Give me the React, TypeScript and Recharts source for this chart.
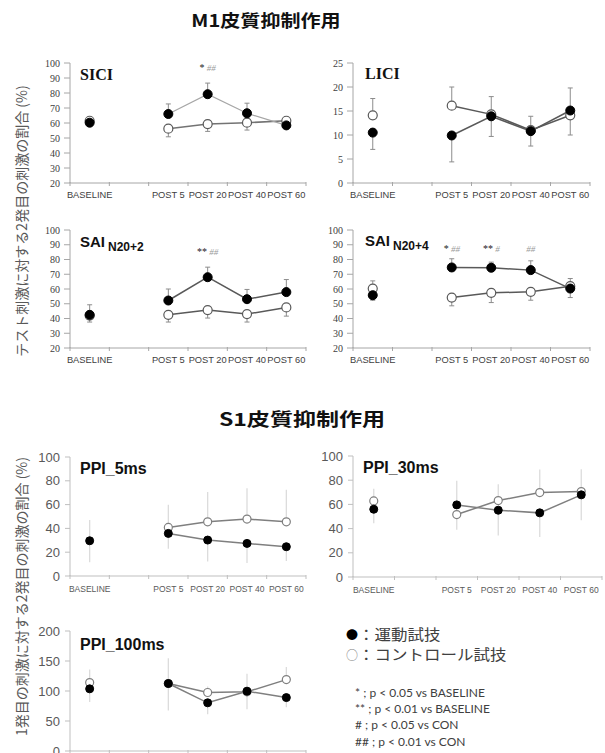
import React from 'react';
import { LineChart, Line, XAxis, YAxis, ErrorBar, LabelList } from 'recharts';

type Num = number | null;
type Err = [number, number] | null;

const categories = ['BASELINE', '', 'POST 5', 'POST 20', 'POST 40', 'POST 60'];

const m1Ticks = [20, 30, 40, 50, 60, 70, 80, 90, 100];
const liciTicks = [0, 5, 10, 15, 20, 25];
const ppiTicks = [0, 20, 40, 60, 80, 100];
const ppi100Ticks = [0, 50, 100, 150, 200];

// SICI
const siciExercise: Num[] = [60.2, null, 66, 79.2, 66.5, 58.4];
const siciExerciseErr: Err[] = [null, null, [0, 6.7], [0, 7.4], [0, 6.7], [1.5, 0]];
const siciControl: Num[] = [61.5, null, 56.2, 59.3, 60.2, 61.5];
const siciControlErr: Err[] = [null, null, [5.4, 0], [4.9, 0], [4.9, 0], [0, 1.8]];
const siciSigBaseline = ['', '', '', '*', '', ''];
const siciSigControl = ['', '', '', '##', '', ''];

// LICI
const liciExercise: Num[] = [10.5, null, 9.9, 13.9, 10.8, 15.1];
const liciExerciseErr: Err[] = [[3.5, 0], null, [5.5, 0], [4.2, 0], [3.1, 0], [5.1, 0]];
const liciControl: Num[] = [14.1, null, 16.1, 14.3, 11.0, 14.1];
const liciControlErr: Err[] = [[0, 3.5], null, [0, 3.9], [0, 3.7], [0, 2.9], [0, 5.7]];

// SAI N20+2
const sai2Exercise: Num[] = [42.5, null, 52.2, 68, 53.1, 57.9];
const sai2ExerciseErr: Err[] = [[4.9, 6.8], null, [0, 7.8], [0, 6.8], [0, 6.6], [0, 8.5]];
const sai2Control: Num[] = [42, null, 42.5, 45.7, 43, 47.5];
const sai2ControlErr: Err[] = [null, null, [4.9, 0], [5.4, 0], [5.4, 0], [5.9, 0]];
const sai2SigBaseline = ['', '', '', '**', '', ''];
const sai2SigControl = ['', '', '', '##', '', ''];

// SAI N20+4
const sai4Exercise: Num[] = [55.8, null, 74.6, 74.4, 72.8, 60.3];
const sai4ExerciseErr: Err[] = [[3.4, 0], null, [0, 5.9], [0, 3.8], [0, 6.3], [6.1, 0]];
const sai4Control: Num[] = [60.3, null, 54.2, 57.4, 58.1, 61.9];
const sai4ControlErr: Err[] = [[0, 5.2], null, [5.6, 0], [6.6, 0], [5.7, 0], [0, 5.2]];
const sai4SigBaseline = ['', '', '*', '**', '', ''];
const sai4SigControl = ['', '', '##', '#', '##', ''];

// PPI 5ms
const ppi5Exercise: Num[] = [29.6, null, 35.8, 30.2, 27.4, 24.6];
const ppi5ExerciseErr: Err[] = [[18, 17.5], null, [13, 0], [18, 0], [16.5, 0], [12, 0]];
const ppi5Control: Num[] = [null, null, 40.8, 45.5, 47.8, 45.5];
const ppi5ControlErr: Err[] = [null, null, [0, 19], [0, 25], [0, 26], [0, 27]];

// PPI 30ms
const ppi30Exercise: Num[] = [56, null, 59.6, 55.2, 53, 67.9];
const ppi30ExerciseErr: Err[] = [[11.5, 0], null, [0, 20], [21, 0], [20, 0], [21, 0]];
const ppi30Control: Num[] = [62.9, null, 51.6, 63.2, 69.8, 70.6];
const ppi30ControlErr: Err[] = [[0, 10], null, [12.6, 0], [0, 13.4], [0, 19], [0, 18.5]];

// PPI 100ms
const ppi100Exercise: Num[] = [103.6, null, 112.5, 80.3, 99.7, 89];
const ppi100ExerciseErr: Err[] = [[22, 0], null, [45, 42], [19, 0], [30, 0], [16, 0]];
const ppi100Control: Num[] = [114, null, 112.5, 97.5, 98.6, 119];
const ppi100ControlErr: Err[] = [[0, 22], null, null, [0, 10], [0, 30], [0, 21]];

const legendItems = ['運動試技', 'コントロール試技'];
const notes = [
  '* ; p < 0.05 vs BASELINE',
  '** ; p < 0.01 vs BASELINE',
  '# ; p < 0.05 vs CON',
  '## ; p < 0.01 vs CON',
];

const CJK = '"Noto Sans CJK JP", "Noto Sans CJK SC", sans-serif';
const SANS = '"Liberation Sans", Arial, sans-serif';
const SERIF = '"Liberation Serif", "Times New Roman", serif';

type Theme = {
  axis: string;
  yTick: any;
  xTick: any;
  xMargin: number;
  dotR: number;
  err: string;
  errW: number;
  errSW: number;
  openStroke: string;
  ySize: number;
  yMargin: number;
};

const M1: Theme = {
  axis: '#a6a6a6',
  yTick: { fontSize: 10, fontFamily: SERIF, fill: '#404040' },
  xTick: { fontSize: 9.3, fontFamily: SANS, fill: '#404040' },
  xMargin: 8,
  dotR: 4.5,
  err: '#8c8c8c',
  errW: 2.5,
  errSW: 1,
  openStroke: '#595959',
  ySize: 6,
  yMargin: 4,
};

const S1: Theme = {
  axis: '#bfbfbf',
  yTick: { fontSize: 13, fontFamily: SANS, fill: '#595959' },
  xTick: { fontSize: 8.5, fontFamily: SANS, fill: '#595959' },
  xMargin: 10,
  dotR: 4,
  err: '#dcdcdc',
  errW: 0,
  errSW: 1.3,
  openStroke: '#7f7f7f',
  ySize: 5,
  yMargin: 5,
};

const MT = 20;
const MR = 10;
const MB = 30;
const AXW = 50;
const AXH = 1;

type PanelProps = {
  x: number;
  y: number;
  w: number;
  h: number;
  domain: [number, number];
  ticks: number[];
  exercise: Num[];
  exerciseErr: Err[];
  control: Num[];
  controlErr: Err[];
  sigB?: string[];
  sigC?: string[];
  sigPageY?: number;
  theme: Theme;
  exLine: string;
  conLine: string;
  exLineW: number;
  conLineW: number;
};

function Panel(p: PanelProps) {
  const n = categories.length;
  const rows = categories.map((name, i) => ({
    name,
    ex: p.exercise[i],
    exErr: p.exerciseErr[i] ?? undefined,
    con: p.control[i],
    conErr: p.controlErr[i] ?? undefined,
    sig: p.sigB && p.sigC && (p.sigB[i] || p.sigC[i]) ? `${p.sigB[i]}|${p.sigC[i]}` : '',
  }));
  const t = p.theme;
  const top = p.y - MT;
  const bw = p.w / n;
  const sigY = (p.sigPageY ?? 0) - top;

  const renderSig = (props: any) => {
    const value = props.value;
    if (!value) return null;
    const cx = props.x ?? (props.viewBox ? props.viewBox.x + (props.viewBox.width || 0) / 2 : 0);
    const [b, c] = String(value).split('|');
    return (
      <text x={cx} y={sigY} textAnchor="middle" fontSize={10} fontFamily={SERIF}>
        <tspan fill="#222">{b}</tspan>
        <tspan fill="#9a9a9a" fontStyle="italic" fontSize={9}>{(b ? ' ' : '') + c}</tspan>
      </text>
    );
  };

  // category tick: label in the band centre, tick marks on the band boundaries
  const renderTick = (props: any) => {
    const { x, y, payload } = props;
    const idx = typeof props.index === 'number' ? props.index : categories.indexOf(payload.value);
    const ay = y - t.xMargin - AXH;
    return (
      <g>
        <line x1={x - bw / 2} x2={x - bw / 2} y1={ay} y2={ay + 4} stroke={t.axis} />
        {idx === n - 1 ? <line x1={x + bw / 2} x2={x + bw / 2} y1={ay} y2={ay + 4} stroke={t.axis} /> : null}
        <text x={x} y={y} dy="0.71em" textAnchor="middle" {...t.xTick}>
          {payload.value}
        </text>
      </g>
    );
  };

  return (
    <div style={{ position: 'absolute', left: p.x - AXW, top }}>
      <LineChart
        width={AXW + p.w + MR}
        height={MT + p.h + MB}
        data={rows}
        margin={{ top: MT, right: MR, bottom: MB - AXH, left: 0 }}
      >
        <XAxis
          dataKey="name"
          type="category"
          height={AXH}
          padding={{ left: bw / 2, right: bw / 2 }}
          axisLine={{ stroke: t.axis }}
          tickLine={false}
          tickSize={0}
          tickMargin={t.xMargin}
          interval={0}
          tick={renderTick}
        />
        <YAxis
          domain={p.domain}
          ticks={p.ticks}
          interval={0}
          width={AXW}
          axisLine={{ stroke: t.axis }}
          tickLine={{ stroke: t.axis }}
          tickSize={t.ySize}
          tickMargin={t.yMargin}
          tick={t.yTick}
        />
        <Line
          dataKey="con"
          stroke={p.conLine}
          strokeWidth={p.conLineW}
          isAnimationActive={false}
          activeDot={false}
          dot={{ r: t.dotR, fill: '#ffffff', stroke: t.openStroke, strokeWidth: 1.2 }}
        >
          <ErrorBar dataKey="conErr" direction="y" width={t.errW} stroke={t.err} strokeWidth={t.errSW} isAnimationActive={false} />
        </Line>
        <Line
          dataKey="ex"
          stroke={p.exLine}
          strokeWidth={p.exLineW}
          isAnimationActive={false}
          activeDot={false}
          dot={{ r: t.dotR, fill: '#000000', stroke: '#000000', strokeWidth: 1 }}
        >
          <ErrorBar dataKey="exErr" direction="y" width={t.errW} stroke={t.err} strokeWidth={t.errSW} isAnimationActive={false} />
          {p.sigB ? <LabelList dataKey="sig" content={renderSig} /> : null}
        </Line>
      </LineChart>
    </div>
  );
}

function Heading({ text, cx, cy, size, sx }: { text: string; cx: number; cy: number; size: number; sx: number }) {
  return (
    <div
      style={{
        position: 'absolute',
        left: cx - 150,
        top: cy - size / 2,
        width: 300,
        textAlign: 'center',
        fontSize: size,
        lineHeight: 1,
        fontWeight: 700,
        fontFamily: CJK,
        color: '#111',
        transform: `scaleX(${sx})`,
        whiteSpace: 'nowrap',
      }}
    >
      {text}
    </div>
  );
}

function PanelTitle({
  text,
  sub,
  left,
  cy,
  size,
  serif,
}: {
  text: string;
  sub?: string;
  left: number;
  cy: number;
  size: number;
  serif?: boolean;
}) {
  return (
    <div
      style={{
        position: 'absolute',
        left,
        top: cy - size / 2,
        fontSize: size,
        lineHeight: 1,
        fontWeight: 700,
        fontFamily: serif ? SERIF : SANS,
        color: '#111',
        whiteSpace: 'nowrap',
      }}
    >
      {text}
      {sub ? (
        <span style={{ fontSize: 12, position: 'relative', top: 4, marginLeft: 3 }}>{sub}</span>
      ) : null}
    </div>
  );
}

export default function App() {
  return (
    <div
      style={{
        position: 'absolute',
        left: 0,
        top: 0,
        width: 605,
        height: 753,
        overflow: 'hidden',
        background: '#ffffff',
      }}
    >
      <Heading text="M1皮質抑制作用" cx={266} cy={19.5} size={17} sx={1.18} />
      <Heading text="S1皮質抑制作用" cx={302} cy={418} size={18} sx={1.28} />

      <svg width={40} height={753} style={{ position: 'absolute', left: 0, top: 0 }}>
        <text
          transform="translate(21,221) rotate(-90)"
          textAnchor="middle"
          dominantBaseline="central"
          fontSize={14}
          fill="#595959"
          fontFamily={CJK}
        >
          テスト刺激に対する2発目の刺激の割合 (%)
        </text>
        <text
          transform="translate(21,457) rotate(-90)"
          textAnchor="end"
          dominantBaseline="central"
          fontSize={14}
          fill="#595959"
          fontFamily={CJK}
        >
          1発目の刺激に対する2発目の刺激の割合 (%)
        </text>
      </svg>

      <Panel
        x={70} y={63} w={236} h={120} domain={[20, 100]} ticks={m1Ticks}
        exercise={siciExercise} exerciseErr={siciExerciseErr}
        control={siciControl} controlErr={siciControlErr}
        sigB={siciSigBaseline} sigC={siciSigControl} sigPageY={71}
        theme={M1} exLine="#a6a6a6" conLine="#737373" exLineW={1.2} conLineW={1.6}
      />
      <Panel
        x={353} y={63} w={237} h={120} domain={[0, 25]} ticks={liciTicks}
        exercise={liciExercise} exerciseErr={liciExerciseErr}
        control={liciControl} controlErr={liciControlErr}
        theme={M1} exLine="#595959" conLine="#595959" exLineW={1.5} conLineW={1.5}
      />
      <Panel
        x={70} y={230} w={236} h={118} domain={[20, 100]} ticks={m1Ticks}
        exercise={sai2Exercise} exerciseErr={sai2ExerciseErr}
        control={sai2Control} controlErr={sai2ControlErr}
        sigB={sai2SigBaseline} sigC={sai2SigControl} sigPageY={255}
        theme={M1} exLine="#595959" conLine="#595959" exLineW={1.5} conLineW={1.5}
      />
      <Panel
        x={353} y={230} w={237} h={118} domain={[20, 100]} ticks={m1Ticks}
        exercise={sai4Exercise} exerciseErr={sai4ExerciseErr}
        control={sai4Control} controlErr={sai4ControlErr}
        sigB={sai4SigBaseline} sigC={sai4SigControl} sigPageY={252}
        theme={M1} exLine="#595959" conLine="#595959" exLineW={1.5} conLineW={1.5}
      />
      <Panel
        x={70} y={457} w={236} h={119} domain={[0, 100]} ticks={ppiTicks}
        exercise={ppi5Exercise} exerciseErr={ppi5ExerciseErr}
        control={ppi5Control} controlErr={ppi5ControlErr}
        theme={S1} exLine="#7f7f7f" conLine="#7f7f7f" exLineW={1.5} conLineW={1.5}
      />
      <Panel
        x={353} y={456} w={249} h={121} domain={[0, 100]} ticks={ppiTicks}
        exercise={ppi30Exercise} exerciseErr={ppi30ExerciseErr}
        control={ppi30Control} controlErr={ppi30ControlErr}
        theme={S1} exLine="#7f7f7f" conLine="#7f7f7f" exLineW={1.5} conLineW={1.5}
      />
      <Panel
        x={70} y={631} w={236} h={120} domain={[0, 200]} ticks={ppi100Ticks}
        exercise={ppi100Exercise} exerciseErr={ppi100ExerciseErr}
        control={ppi100Control} controlErr={ppi100ControlErr}
        theme={S1} exLine="#7f7f7f" conLine="#7f7f7f" exLineW={1.5} conLineW={1.5}
      />

      <PanelTitle text="SICI" left={80} cy={74.5} size={16} serif />
      <PanelTitle text="LICI" left={365} cy={73.5} size={16} serif />
      <PanelTitle text="SAI" sub="N20+2" left={80} cy={241} size={15} />
      <PanelTitle text="SAI" sub="N20+4" left={365} cy={240.5} size={15} />
      <PanelTitle text="PPI_5ms" left={80} cy={469} size={16} />
      <PanelTitle text="PPI_30ms" left={363} cy={467.5} size={16} />
      <PanelTitle text="PPI_100ms" left={80} cy={644.5} size={16} />

      {legendItems.map((label, i) => (
        <div
          key={label}
          style={{
            position: 'absolute',
            left: 346,
            top: 626 + i * 20,
            height: 15,
            fontSize: 15,
            lineHeight: '15px',
            fontFamily: CJK,
            color: '#404040',
            whiteSpace: 'nowrap',
          }}
        >
          <span style={{ fontSize: 12, color: i === 0 ? '#000' : '#7f7f7f' }}>{i === 0 ? '●' : '○'}</span>
          <span style={{ display: 'inline-block', transform: 'scaleX(1.1)', transformOrigin: 'left center' }}>
            {'：' + label}
          </span>
        </div>
      ))}

      {notes.map((line, i) => (
        <div
          key={line}
          style={{
            position: 'absolute',
            left: 355,
            top: 685 + i * 16.2,
            fontSize: 12,
            lineHeight: '16px',
            fontFamily: 'Lato, "Liberation Sans", sans-serif',
            color: '#404040',
            whiteSpace: 'nowrap',
          }}
        >
          {line}
        </div>
      ))}
    </div>
  );
}
